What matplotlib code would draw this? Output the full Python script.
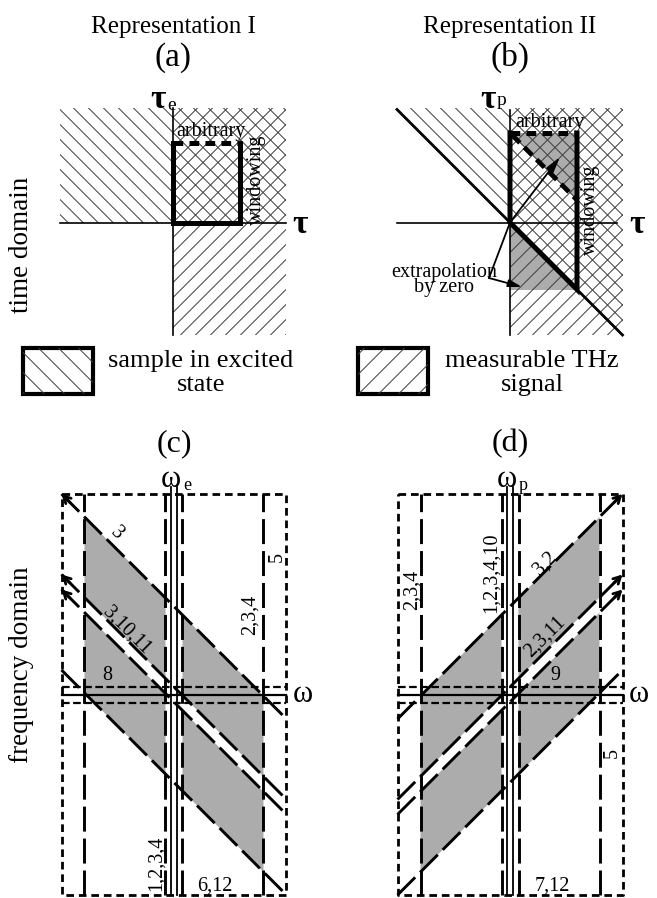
import numpy as np
import matplotlib
matplotlib.use('Agg')
import matplotlib.pyplot as plt
from matplotlib.patches import Polygon, Rectangle

plt.rcParams['font.family'] = ['Liberation Serif', 'DejaVu Serif']
plt.rcParams['lines.scale_dashes'] = False
plt.rcParams['lines.dash_capstyle'] = 'butt'

W, H = 657, 898
GRAY = '#acacac'
HATCH = '#3c3c3c'
SHORT = (5.5, 3.5)
LONG = (18, 5)

# text content
headings = ['Representation I', 'Representation II']
tags = ['(a)', '(b)', '(c)', '(d)']
domains = ['time domain', 'frequency domain']
legend_lines = [['sample in excited', 'state'], ['measurable THz', 'signal']]
tau_subs = ['e', 'p']
omega_subs = ['e', 'p']
extrap_text = 'extrapolation\nby zero'

# time domain sketches, pixel units around tau = 0
t_extent = (-113, 112.5, -112.5, 114.5)   # left, right, bottom, top
win_a = (67, 80)                           # window width, arbitrary cut
win_b = (67, 89.5, 22.5)                   # width, arbitrary cut, end of inner cut
zero_fill = 67.5

# frequency domain sketches
f_box = (112.5, 200.5)
f_cols = [8.5, 89.5]
f_rows = 8
f_diag = [88, 7.5]

labels_c = ['3', '3,10,11', '8', '2,3,4', '5', '1,2,3,4', '6,12']
pos_c = [(-57, 161.5, -45), (-47, 64.5, -45), (-67, 19.5, 0), (76, 79.5, 90),
         (103, 137.5, 90), (-18, -168.5, 90), (41, -191.5, 0)]
labels_d = ['2,3,4', '1,2,3,4,10', '3,2', '2,3,11', '9', '5', '7,12']
pos_d = [(-98, 104.5, 90), (-19, 121.5, 90), (35, 131.5, 45), (35, 57.5, 45),
         (45, 19.5, 0), (102, -58.5, 90), (42, -191.5, 0)]

fig = plt.figure(figsize=(W / 100, H / 100), dpi=100)


def panel(x0, y0, sx=165, sy=240):
    ax = fig.add_axes([(x0 - sx) / W, (H - y0 - sy) / H, 2 * sx / W, 2 * sy / H])
    ax.set_xlim(-sx, sx)
    ax.set_ylim(-sy, sy)
    ax.set_axis_off()
    return ax


def hatch(ax, verts, slope, step=15, lw=0.7):
    clip = Polygon(verts, closed=True, fill=False, lw=0)
    ax.add_patch(clip)
    pts = np.array(verts, dtype=float)
    c = pts[:, 1] - slope * pts[:, 0]
    u = np.array([pts[:, 0].min() - 2, pts[:, 0].max() + 2])
    for k in np.arange(np.floor(c.min() / step) * step, c.max() + step, step):
        ln, = ax.plot(u, slope * u + k, color=HATCH, lw=lw)
        ln.set_clip_path(clip)


def legend_box(ax, u0, v0, slope, lines, tx):
    verts = [(u0, v0), (u0 + 70, v0), (u0 + 70, v0 - 46), (u0, v0 - 46)]
    hatch(ax, verts, slope, step=20)
    ax.add_patch(Rectangle((u0, v0 - 46), 70, 46, fill=False, lw=3, ec='k'))
    ax.text(tx, v0 - 19, lines[0], ha='center', va='baseline', fontsize=19)
    ax.text(tx, v0 - 43, lines[1], ha='center', va='baseline', fontsize=19)


def time_labels(ax, i, tau_u, sub_dv):
    ax.text(0, 189.5, headings[i], ha='center', va='baseline', fontsize=18)
    ax.text(0, 156.5, tags[i], ha='center', va='baseline', fontsize=24)
    ax.text(tau_u, 114.5, 'τ', ha='center', va='baseline', fontsize=24, fontweight='bold')
    ax.text(tau_u + 9, 114.5 + sub_dv, tau_subs[i], ha='left', va='baseline', fontsize=14)
    ax.text(127, -10.5, 'τ', ha='center', va='baseline', fontsize=24, fontweight='bold')


# (a) representation I
ax = panel(173, 222.5)
l, r, b, t = t_extent
hatch(ax, [(l, 0), (r, 0), (r, t), (l, t)], -1)
hatch(ax, [(0, b), (r, b), (r, t), (0, t)], 1)
ax.plot([l, r], [0, 0], 'k', lw=1.2)
ax.plot([0, 0], [b, t], 'k', lw=1.2)
w, h = win_a
ax.plot([0, 0, w, w], [h, 0, 0, h], 'k', lw=3.6, solid_joinstyle='miter',
        solid_capstyle='projecting')
ax.plot([0, w], [h, h], 'k', lw=3.6, dashes=(7, 4.5))
time_labels(ax, 0, -15, -1.5)
ax.text(38, 86.5, 'arbitrary', ha='center', va='baseline', fontsize=14.5)
ax.text(83, 42.5, 'windowing', ha='center', va='center', rotation=90, fontsize=14.5)
legend_box(ax, -150, -125.5, -1, legend_lines[0], 28)

# (b) representation II
ax = panel(510, 222.5)
w, h, e = win_b
ax.add_patch(Polygon([(0, h), (w, h), (w, e)], color=GRAY, lw=0))
ax.add_patch(Polygon([(0, 0), (0, -zero_fill), (zero_fill, -zero_fill)], color=GRAY, lw=0))
hatch(ax, [(l, -l), (l, t), (r, t), (r, -r)], -1)
hatch(ax, [(0, b), (r, b), (r, t), (0, t)], 1)
ax.plot([l, r - 6], [0, 0], 'k', lw=1.2)
ax.plot([0, 0], [b, t - 2], 'k', lw=1.2)
ax.plot([l, r], [-l, -r], 'k', lw=2)
ax.plot([0, 0, w, w], [h, 0, -w, h], 'k', lw=3.6, solid_joinstyle='miter',
        solid_capstyle='projecting')
ax.plot([0, w], [h, h], 'k', lw=3.6, dashes=(7, 4.5))
ax.plot([2, w], [h - 2, e], 'k', lw=3.4, dashes=(8, 4.5))
ax.annotate('', xy=(50, 65.5), xytext=(0, 0),
            arrowprops=dict(arrowstyle='-|>,head_length=0.95,head_width=0.25',
                            lw=1.3, color='k', shrinkA=0, shrinkB=0))
ax.plot([-21, 0], [-55.5, 0], 'k', lw=1.3)
ax.annotate('', xy=(12, -64.5), xytext=(-21, -55.5),
            arrowprops=dict(arrowstyle='-|>,head_length=0.8,head_width=0.22',
                            lw=1.3, color='k', shrinkA=0, shrinkB=0))
time_labels(ax, 1, -22.5, 3)
ax.text(40, 95.5, 'arbitrary', ha='center', va='baseline', fontsize=14.5)
ax.text(80, 12.5, 'windowing', ha='center', va='center', rotation=90, fontsize=14.5)
ax.text(-66, -57.5, extrap_text, ha='center', va='center', multialignment='center',
        linespacing=0.78, fontsize=14.5)
legend_box(ax, -152, -125.5, 1, legend_lines[1], 22)


def freq_panel(ax, i, k, labels, pos):
    hw, hh = f_box
    ci, co = f_cols
    c_out, c_in = f_diag
    # shaded windows between the diagonal support lines
    for s in (-1, 1):
        a, b2 = sorted((s * ci, s * co))
        for lo, hi in ((c_in, c_out), (-c_out, -c_in)):
            ax.add_patch(Polygon([(a, k * a + lo), (b2, k * b2 + lo),
                                  (b2, k * b2 + hi), (a, k * a + hi)], color=GRAY, lw=0))
    ax.plot([-hw, hw, hw, -hw, -hw], [hh, hh, -hh, -hh, hh], 'k', lw=2, dashes=SHORT)
    for v in (f_rows, -f_rows):
        ax.plot([-hw, hw], [v, v], 'k', lw=1.6, dashes=(5.5, 2.5))
    ax.plot([-hw, hw], [0, 0], 'k', lw=1.6)
    for u in (-3, 3):
        ax.plot([u, u], [-hh, hh + 7], 'k', lw=1.3)
    for u in (-co, -ci, ci, co):
        ax.plot([u, u], [-hh, hh], 'k', lw=2.1, dashes=LONG)
    uu = np.array([-hw, hw])
    for c in (c_out, c_in, -c_in, -c_out):
        ax.plot(uu, k * uu + c, 'k', lw=2.1, dashes=LONG)
    for c in (c_out, c_in, -c_in):
        tip = np.array([k * hw, hw + c])
        tail = tip - 12 * np.array([k, 1]) / np.sqrt(2)
        ax.annotate('', xy=tip, xytext=tail,
                    arrowprops=dict(arrowstyle='->,head_length=0.5,head_width=0.27',
                                    lw=2, color='k', shrinkA=0, shrinkB=0))
    for txt, (u, v, rot) in zip(labels, pos):
        ax.text(u, v, txt, ha='center', va='center', rotation=rot,
                rotation_mode='anchor', fontsize=14.5)
    ax.text(0, 243.5, tags[i], ha='center', va='baseline', fontsize=23)
    ax.text(-3, 207.5, 'ω', ha='center', va='baseline', fontsize=22)
    ax.text(9, 204, omega_subs[i - 2], ha='left', va='baseline', fontsize=13)
    ax.text(129, 0, 'ω', ha='center', va='center', fontsize=22)


freq_panel(panel(174, 694.5), 2, -1, labels_c, pos_c)
freq_panel(panel(510, 694.5), 3, 1, labels_d, pos_d)

fig.text(22 / W, 1 - 244.5 / H, domains[0], ha='center', va='center', rotation=90, fontsize=19.5)
fig.text(22 / W, 1 - 665 / H, domains[1], ha='center', va='center', rotation=90, fontsize=19.5)

fig.savefig('out.png', dpi=100, facecolor='white')
